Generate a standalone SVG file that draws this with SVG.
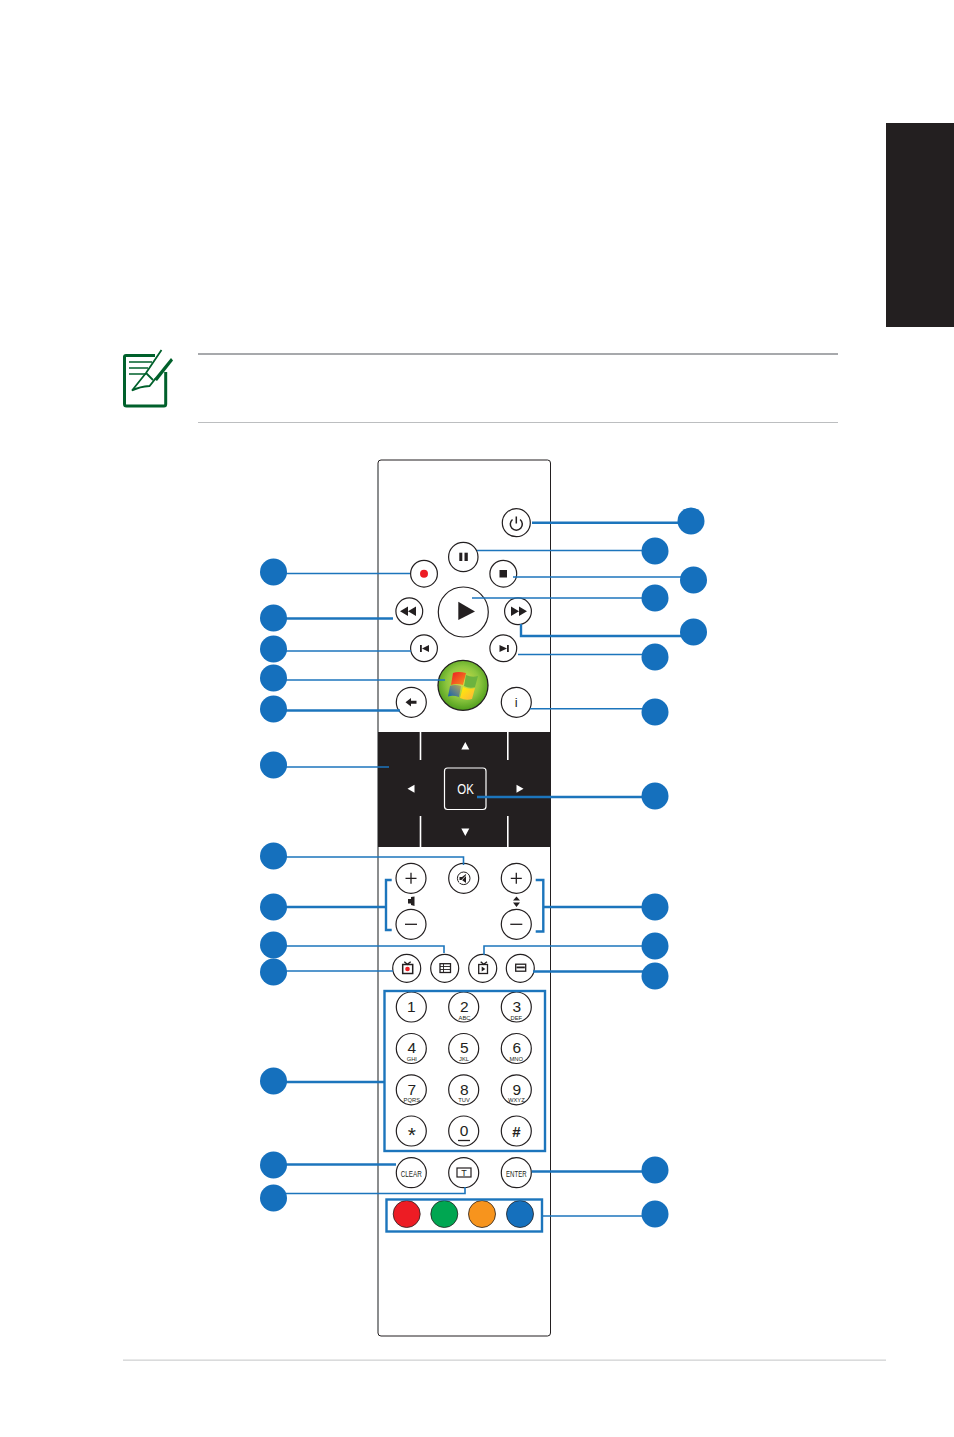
<svg xmlns="http://www.w3.org/2000/svg" width="954" height="1437" viewBox="0 0 954 1437">
<style>
.b{fill:#fff;stroke:#231f20;stroke-width:1.2}
.k{fill:#231f20}
.w{fill:#fff}
.c{fill:none;stroke:#1c75bc;stroke-width:1.6}
.t{stroke-width:2.4}
.dot{fill:#1570bd}
.n{font-family:"Liberation Sans",Arial,sans-serif;font-size:15.5px;text-anchor:middle;fill:#231f20}
.s{font-family:"Liberation Sans",Arial,sans-serif;font-size:5.8px;text-anchor:middle;fill:#231f20}
.m{font-family:"Liberation Sans",Arial,sans-serif;font-size:9px;text-anchor:middle;fill:#231f20}
.i{fill:none;stroke:#231f20;stroke-width:1.3}
.note{fill:none;stroke:#00602b}
</style>
<defs>
<radialGradient id="g" cx="0.5" cy="0.45" r="0.55"><stop offset="0" stop-color="#d8e04a"/><stop offset="0.6" stop-color="#8cc63f"/><stop offset="1" stop-color="#4e9d1c"/></radialGradient>
<linearGradient id="fr" x1="0" y1="0" x2="1" y2="1"><stop offset="0" stop-color="#ed1c24"/><stop offset="1" stop-color="#f7941d"/></linearGradient>
<linearGradient id="fy" x1="0" y1="0" x2="1" y2="1"><stop offset="0" stop-color="#fff200"/><stop offset="1" stop-color="#fbb040"/></linearGradient>
<linearGradient id="fb" x1="0" y1="1" x2="1" y2="0"><stop offset="0" stop-color="#0f5fb0"/><stop offset="1" stop-color="#b5a75a"/></linearGradient>
</defs>
<rect width="954" height="1437" fill="#fff"/>
<g id="page">
<rect x="886" y="123" width="68" height="204" class="k"/>
<rect x="198" y="353" width="640" height="2" fill="#a7a9ac"/>
<rect x="198" y="422" width="640" height="1" fill="#bcbec0"/>
<rect x="123" y="1359.500" width="763" height="1.300" fill="#d1d3d4"/>
</g>
<g id="note-icon">
<path class="note" stroke-width="3" d="M155 355.500H126Q124.500 355.500 124.500 357V404Q124.500 406 126.500 406H164Q165.700 406 165.700 404V372"/>
<path class="note" stroke-width="1.500" d="M129 362H152M129 368H148M129 374H146"/>
<path class="note" stroke-width="1.800" d="M161.500 350L146 373L132 390.500Q140 386.500 149.500 386L156 378M146 373L153 380"/>
<path d="M154 379L171 358L173 360.500L157 381Z" fill="#00602b"/>
</g>
<g id="remote">
<rect x="378" y="460" width="172.500" height="876" rx="3" fill="#fff" stroke="#231f20" stroke-width="1"/>
<path d="M378 465V1331" stroke="#8a8c8e" stroke-width="1.500"/>
</g>
<g id="dpad">
<rect x="378" y="732" width="173" height="115" class="k"/>
<path d="M420.500 732V760M507.800 732V760M420.500 816V847M507.800 816V847" stroke="#fff" stroke-width="1.600"/>
<path d="M465.300 742L469.300 749.500H461.300Z M465.300 836L461.300 828.500H469.300Z M407.500 788.700L414.500 784.700V792.700Z M523.500 788.700L516.500 784.700V792.700Z" class="w"/>
<rect x="444.500" y="768" width="41.500" height="41.500" rx="3" fill="#231f20" stroke="#fff" stroke-width="1.200"/>
<text x="465.500" y="793.500" font-family="'Liberation Sans',Arial,sans-serif" font-size="14" text-anchor="middle" fill="#fff" textLength="16.500" lengthAdjust="spacingAndGlyphs">OK</text>
</g>
<g id="btn-power"><circle cx="516.300" cy="522.700" r="14" class="b"/><path d="M512.500 519.500A6 6 0 1 0 520.100 519.500M516.300 516.500V523.500" class="i" style="stroke-width:1.500"/></g>
<g id="btn-pause"><circle cx="463.300" cy="557" r="14.700" class="b"/><rect x="459.300" y="552.700" width="3" height="8.300" class="k"/><rect x="464.500" y="552.700" width="3.300" height="8.300" class="k"/></g>
<g id="btn-record"><circle cx="424" cy="573.700" r="13.400" class="b"/><circle cx="424" cy="573.700" r="4" fill="#ed1c24"/></g>
<g id="btn-stop"><circle cx="503.300" cy="573.700" r="13.400" class="b"/><rect x="499.500" y="570" width="7.500" height="7.500" class="k"/></g>
<g id="btn-play"><circle cx="463.300" cy="612" r="25" class="b"/><path d="M458.300 601.700L475 611.500L458.300 620Z" class="k"/></g>
<g id="btn-rew"><circle cx="409.300" cy="611.300" r="13.400" class="b"/><path d="M400 611.300L408 606.500V616ZM408 611.300L416 606.500V616Z" class="k"/></g>
<g id="btn-ff"><circle cx="518" cy="611.300" r="13.400" class="b"/><path d="M511 606.500L519 611.300L511 616ZM519 606.500L527 611.300L519 616Z" class="k"/></g>
<g id="btn-prev"><circle cx="424" cy="648.300" r="13.400" class="b"/><rect x="420" y="645" width="1.800" height="7" class="k"/><path d="M422 648.500L429 645V652Z" class="k"/></g>
<g id="btn-next"><circle cx="503.300" cy="648.300" r="13.400" class="b"/><rect x="507" y="645" width="1.800" height="7" class="k"/><path d="M499.500 645L507 648.500L499.500 652Z" class="k"/></g>
<g id="btn-windows"><circle cx="463" cy="685.300" r="25" fill="url(#g)" stroke="#231f20" stroke-width="1.300"/>
<path d="M453 673Q458 671 466 673L463 685Q456 683 451 685Z" fill="url(#fr)"/>
<path d="M466 675Q472 678 478 676L475 687Q470 689 464 686Z" fill="#6cb33f"/>
<path d="M450 686Q455 684 461 686L459 697Q453 695 448 696.500Z" fill="url(#fb)"/>
<path d="M463 687Q469 690 475 688L472 699Q466 701 460 698Z" fill="url(#fy)"/></g>
<g id="btn-back"><circle cx="411.300" cy="702.300" r="15" class="b"/><path d="M405.500 702.300L411 698V700.800H416.500V703.800H411V706.500Z" class="k"/></g>
<g id="btn-info"><circle cx="516.300" cy="702.300" r="15" class="b"/><text x="516.300" y="707" class="n" style="font-size:13px">i</text></g>
<g id="btn-vol-up"><circle cx="411" cy="878.300" r="15" class="b"/><path d="M405.500 878.300H416.500M411 872.800V883.800" class="i"/></g>
<g id="btn-vol-down"><circle cx="411" cy="924.300" r="15" class="b"/><path d="M405 924.300H417" class="i"/></g>
<path id="icon-vol" d="M408 899H411V897L414.500 896.500V906L411 905V903.500H408Z" class="k"/>
<g id="btn-mute"><circle cx="463.700" cy="878.300" r="15" class="b"/><circle cx="463.700" cy="878.300" r="6.300" class="i" style="stroke-width:1"/><path d="M459.500 877H462L466 874V883L462 880H459.500Z" class="k"/><path d="M468 873.500L459 883" class="i" style="stroke:#fff;stroke-width:.8"/></g>
<g id="btn-ch-up"><circle cx="516.300" cy="878.300" r="15" class="b"/><path d="M510.800 878.300H521.800M516.300 872.800V883.800" class="i"/></g>
<g id="btn-ch-down"><circle cx="516.300" cy="924.300" r="15" class="b"/><path d="M510.300 924.300H522.300" class="i"/></g>
<path id="icon-ch" d="M516.500 896.500L520 900.500H513ZM516.500 907L513 902.500H520Z" class="k"/>
<g id="btn-rectv"><circle cx="406.700" cy="968.300" r="14" class="b"/><rect x="402.700" y="964.500" width="10" height="9" fill="#fff" stroke="#231f20" stroke-width="1.500"/><path d="M404.300 961.700L407.300 964.300L410.700 961.700" class="i"/><circle cx="407.500" cy="969" r="2.300" fill="#ed1c24"/></g>
<g id="btn-guide"><circle cx="444.700" cy="968.300" r="14" class="b"/><rect x="440" y="963.700" width="10.500" height="8.800" fill="#fff" stroke="#231f20" stroke-width="1.300"/><path d="M440 966.500H450.500M440 969.500H450.500M443.500 963.700V972.500" stroke="#231f20" stroke-width="0.900"/></g>
<g id="btn-livetv"><circle cx="482.700" cy="968.300" r="14" class="b"/><rect x="478.700" y="964.500" width="8.800" height="9" fill="#fff" stroke="#231f20" stroke-width="1.300"/><path d="M480.700 961.700L483.700 964.300L487 961.700" class="i"/><path d="M481.700 966.500L485.300 969L481.700 971.500Z" class="k"/></g>
<g id="btn-menu"><circle cx="520.300" cy="968.300" r="14" class="b"/><rect x="515.700" y="964.200" width="10" height="7" fill="#fff" stroke="#231f20" stroke-width="1.300"/><rect x="516.500" y="966.500" width="8.300" height="1.800" class="k"/></g>
<g id="key-1"><circle cx="411.300" cy="1007" r="15" class="b"/><text x="411.300" y="1012" class="n">1</text></g>
<g id="key-2"><circle cx="463.700" cy="1007" r="15" class="b"/><text x="464.300" y="1011.500" class="n">2</text><text x="464.500" y="1019.700" class="s">ABC</text></g>
<g id="key-3"><circle cx="516.300" cy="1007" r="15" class="b"/><text x="516.800" y="1011.500" class="n">3</text><text x="516.300" y="1019.700" class="s">DEF</text></g>
<g id="key-4"><circle cx="411.300" cy="1048.500" r="15" class="b"/><text x="411.800" y="1053" class="n">4</text><text x="411.800" y="1060.700" class="s">GHI</text></g>
<g id="key-5"><circle cx="463.700" cy="1048.500" r="15" class="b"/><text x="464.300" y="1053" class="n">5</text><text x="464" y="1060.700" class="s">JKL</text></g>
<g id="key-6"><circle cx="516.300" cy="1048.500" r="15" class="b"/><text x="516.800" y="1053" class="n">6</text><text x="516.300" y="1060.700" class="s">MNO</text></g>
<g id="key-7"><circle cx="411.300" cy="1089.800" r="15" class="b"/><text x="411.800" y="1094.500" class="n">7</text><text x="411.800" y="1102" class="s">PQRS</text></g>
<g id="key-8"><circle cx="463.700" cy="1089.800" r="15" class="b"/><text x="464.300" y="1094.500" class="n">8</text><text x="464" y="1102" class="s">TUV</text></g>
<g id="key-9"><circle cx="516.300" cy="1089.800" r="15" class="b"/><text x="516.800" y="1094.500" class="n">9</text><text x="516.300" y="1102" class="s">WXYZ</text></g>
<g id="key-star"><circle cx="411.300" cy="1131" r="15" class="b"/><text x="411.800" y="1142" class="n" style="font-size:21px">*</text></g>
<g id="key-0"><circle cx="463.700" cy="1131" r="15" class="b"/><text x="464" y="1136" class="n">0</text><path d="M458 1140.500H470" class="i"/></g>
<g id="key-hash"><circle cx="516.300" cy="1131" r="15" class="b"/><text x="516.300" y="1137" class="n" style="font-size:15px;font-weight:bold">#</text></g>
<g id="btn-clear"><circle cx="411.300" cy="1172.700" r="15" class="b"/><text x="411.300" y="1176.500" class="m" textLength="21" lengthAdjust="spacingAndGlyphs">CLEAR</text></g>
<g id="btn-text"><circle cx="463.700" cy="1172.700" r="15" class="b"/><rect x="457" y="1168" width="14" height="9" fill="#fff" stroke="#231f20" stroke-width="1.200"/><text x="464" y="1176" class="m">T</text></g>
<g id="btn-enter"><circle cx="516.300" cy="1172.700" r="15" class="b"/><text x="516.300" y="1176.500" class="m" textLength="20.500" lengthAdjust="spacingAndGlyphs">ENTER</text></g>
<g id="btn-red"><circle cx="406.700" cy="1214" r="13.500" fill="#ed1c24" stroke="#231f20" stroke-width="0.800"/></g>
<g id="btn-green"><circle cx="444.300" cy="1214" r="13.500" fill="#00a651" stroke="#231f20" stroke-width="0.800"/></g>
<g id="btn-orange"><circle cx="482" cy="1214" r="13.500" fill="#f7941d" stroke="#231f20" stroke-width="0.800"/></g>
<g id="btn-blue"><circle cx="520" cy="1214" r="13.500" fill="#1570bd" stroke="#231f20" stroke-width="0.800"/></g>
<g id="connectors">
<path class="c t" d="M532 522.700H691"/>
<path class="c" d="M477 550.500H655"/>
<path class="c" d="M513 577H693"/>
<path class="c" d="M472 598H655"/>
<path class="c t" d="M521 624V636H693"/>
<path class="c" d="M518 654.500H655"/>
<path class="c" d="M530 708.700H655"/>
<path class="c t" d="M477 797H655"/>
<path class="c t" d="M535.700 880H543.300V931.500H535.700M543.300 907H655"/>
<path class="c" d="M484 955V946H655"/>
<path class="c t" d="M533 971.500H655"/>
<path class="c t" d="M531.700 1171.500H655"/>
<path class="c" d="M542 1216H655"/>
<path class="c" d="M273 573.500H410"/>
<path class="c t" d="M273 618.500H393"/>
<path class="c" d="M273 651H411"/>
<path class="c" d="M273 680H445"/>
<path class="c t" d="M273 710.500H400"/>
<path class="c" d="M273 767H389"/>
<path class="c" d="M273 857H463.500V865"/>
<path class="c t" d="M391.700 880H386V930H391.700M386 907H273"/>
<path class="c" d="M273 946H444V953"/>
<path class="c" d="M273 971H393"/>
<path class="c t" d="M273 1082H384"/>
<path class="c t" d="M273 1164.500H396"/>
<path class="c" d="M273 1193.500H465V1187"/>
<rect class="c t" x="384.500" y="991" width="160.500" height="160"/>
<rect class="c t" x="386.500" y="1199.500" width="155.500" height="32"/>
</g>
<g id="callouts">
<circle id="c-r1" class="dot" cx="691" cy="521" r="13.500"/>
<circle id="c-r2" class="dot" cx="655" cy="551" r="13.500"/>
<circle id="c-r3" class="dot" cx="693.500" cy="580" r="13.500"/>
<circle id="c-r4" class="dot" cx="655" cy="598" r="13.500"/>
<circle id="c-r5" class="dot" cx="693.500" cy="632" r="13.500"/>
<circle id="c-r6" class="dot" cx="655" cy="657" r="13.500"/>
<circle id="c-r7" class="dot" cx="655" cy="712" r="13.500"/>
<circle id="c-r8" class="dot" cx="655" cy="796" r="13.500"/>
<circle id="c-r9" class="dot" cx="655" cy="907" r="13.500"/>
<circle id="c-r10" class="dot" cx="655" cy="946" r="13.500"/>
<circle id="c-r11" class="dot" cx="655" cy="976" r="13.500"/>
<circle id="c-r12" class="dot" cx="655" cy="1170" r="13.500"/>
<circle id="c-r13" class="dot" cx="655" cy="1214" r="13.500"/>
<circle id="c-l1" class="dot" cx="273.500" cy="572" r="13.500"/>
<circle id="c-l2" class="dot" cx="273.500" cy="618" r="13.500"/>
<circle id="c-l3" class="dot" cx="273.500" cy="649" r="13.500"/>
<circle id="c-l4" class="dot" cx="273.500" cy="678" r="13.500"/>
<circle id="c-l5" class="dot" cx="273.500" cy="709" r="13.500"/>
<circle id="c-l6" class="dot" cx="273.500" cy="765" r="13.500"/>
<circle id="c-l7" class="dot" cx="273.500" cy="856" r="13.500"/>
<circle id="c-l8" class="dot" cx="273.500" cy="907" r="13.500"/>
<circle id="c-l9" class="dot" cx="273.500" cy="945" r="13.500"/>
<circle id="c-l10" class="dot" cx="273.500" cy="972" r="13.500"/>
<circle id="c-l11" class="dot" cx="273.500" cy="1081" r="13.500"/>
<circle id="c-l12" class="dot" cx="273.500" cy="1165" r="13.500"/>
<circle id="c-l13" class="dot" cx="273.500" cy="1198" r="13.500"/>
</g>
</svg>
